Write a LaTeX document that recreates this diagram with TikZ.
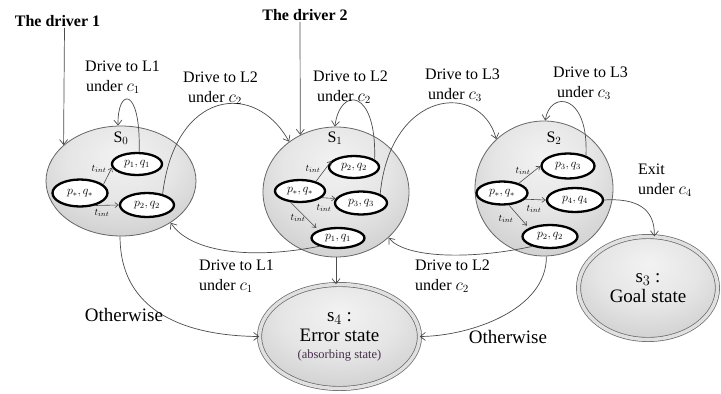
\documentclass[tikz,border=0pt]{standalone}
\usepackage{fontspec}
\setmainfont{Liberation Serif}
\usetikzlibrary{shapes.geometric,arrows.meta}
\definecolor{absorbcol}{rgb}{0.28,0.18,0.3}
\pgfdeclareradialshading{stateshade}{\pgfpoint{0bp}{12bp}}{rgb(0bp)=(0.95,0.95,0.95); rgb(18bp)=(0.9,0.9,0.9); rgb(50bp)=(0.72,0.72,0.72); rgb(75bp)=(0.66,0.66,0.66)}
\begin{document}
\begin{tikzpicture}[x=1pt,y=-1pt,
  bigstate/.style={ellipse, draw=black!60, line width=0.8pt, shading=stateshade, inner sep=0pt},
  finalstate/.style={ellipse, draw=black!60, line width=0.7pt, double=black!12, double distance=3.5pt, shading=stateshade, inner sep=0pt, align=center, font=\fontsize{19}{20}\selectfont},
  inode/.style={ellipse, draw=black, line width=2.3pt, fill=white, inner sep=0pt, minimum width=50pt, minimum height=22pt, font=\fontsize{11.5}{11.5}\selectfont},
  conn/.style={draw=black!70, line width=0.7pt, -{Straight Barb[length=5pt,width=8pt]}},
  tconn/.style={draw=black!70, line width=0.6pt, -{Straight Barb[length=3.5pt,width=5pt]}},
  lbl/.style={font=\fontsize{16}{20}\selectfont, align=left, inner sep=0pt, anchor=west},
  tlbl/.style={font=\fontsize{10}{10}\selectfont, inner sep=0pt},
  slbl/.style={font=\fontsize{16}{16}\selectfont, inner sep=0pt},
  drv/.style={font=\fontsize{16}{16}\selectfont\bfseries, inner sep=1pt},
  otherlbl/.style={font=\fontsize{19}{19}\selectfont, inner sep=0pt},
]
\fill[white] (0,0) rectangle (721,394);
\useasboundingbox (0,0) rectangle (721,394);

% big states
\node[bigstate, minimum width=150pt, minimum height=110pt] (s0) at (121,181) {};
\node[bigstate, minimum width=146pt, minimum height=130pt] (s1) at (336,192) {};
\node[bigstate, minimum width=138pt, minimum height=135pt] (s2) at (544,188.5) {};
\node[finalstate, minimum width=139pt, minimum height=103pt] (s3) at (648,288) {s$_3$ :\\Goal state};
\node[finalstate, minimum width=160pt, minimum height=104pt] (s4) at (339.5,336.5) {s$_4$ :\\Error state\\[-3pt]{\fontsize{12.5}{14}\selectfont\color{absorbcol}(absorbing state)}};

\node[slbl] (l0) at (121,138) {S$_0$};
\node[slbl] (l1) at (335,138) {S$_1$};
\node[slbl] (l2) at (554,138) {S$_2$};

% inner nodes S0
\node[inode, minimum width=55pt, minimum height=27pt] (a0) at (80,193) {$p_*,q_*$};
\node[inode] (b0) at (137,164) {$p_1,q_1$};
\node[inode, minimum width=54pt, minimum height=24pt] (c0) at (147,205) {$p_2,q_2$};
% inner nodes S1
\node[inode] (a1) at (300,191) {$p_*,q_*$};
\node[inode] (e1) at (354,167) {$p_2,q_2$};
\node[inode, minimum width=52pt, minimum height=23pt] (f1) at (361,203) {$p_3,q_3$};
\node[inode, minimum width=53pt, minimum height=20pt] (i1) at (338,238) {$p_1,q_1$};
% inner nodes S2
\node[inode, minimum width=51pt, minimum height=23pt] (a2) at (502,193) {$p_*,q_*$};
\node[inode, minimum width=53pt, minimum height=25pt] (g2) at (568,166) {$p_3,q_3$};
\node[inode, minimum width=56pt, minimum height=24pt] (h2) at (575,200) {$p_4,q_4$};
\node[inode, minimum width=55pt, minimum height=23pt] (j2) at (550,236.5) {$p_2,q_2$};

% internal transitions
\draw[tconn] (a0.20) -- (b0.188);
\draw[tconn] (a0.-40) -- (c0.180);
\node[tlbl] (t01) at (99,169) {$t_{int}$};
\node[tlbl] (t02) at (102,213) {$t_{int}$};

\draw[tconn] (a1.31) -- (e1.165);
\draw[tconn] (a1.-17) -- (f1.170);
\draw[tconn, shorten >=3pt] (a1.-130) -- (i1.158);
\node[tlbl] (t11) at (313,169) {$t_{int}$};
\node[tlbl] (t12) at (324,208) {$t_{int}$};
\node[tlbl] (t13) at (298,218) {$t_{int}$};

\draw[tconn] (a2.30) -- (g2.180);
\draw[tconn] (a2.-15) -- (h2.180);
\draw[tconn, shorten >=3pt] (a2.-60) -- (j2.158);
\node[tlbl] (t21) at (523,171) {$t_{int}$};
\node[tlbl] (t22) at (534,209) {$t_{int}$};
\node[tlbl] (t23) at (506,219) {$t_{int}$};

% drivers
\node[drv] (d1) at (57.5,21) {The driver 1};
\node[drv] (d2) at (305,15) {The driver 2};
\draw[conn] ([xshift=7pt]d1.south) -- (s0.148);
\draw[conn] ([xshift=-5pt]d2.south) -- (s1.122);

% self loops
\draw[conn] (b0.80) .. controls (141,85) and (117,88) .. (s0.93);
\draw[conn] (e1.20) .. controls (377,88) and (340,86) .. (s1.91);
\draw[conn] (g2.30) .. controls (589,93) and (550,90) .. (s2.89);

% forward transitions
\draw[conn] (c0.35) .. controls (175,90) and (255,80) .. (s1.133);
\draw[conn] (f1.25) .. controls (390,90) and (480,80) .. (s2.134);
\draw[conn] (h2.0) .. controls (636,198) and (655,208) .. (s3.83);

% backward transitions
\draw[conn] (i1.204) .. controls (250,260) and (190,252) .. (s0.-40);
\draw[conn] (j2.209) .. controls (470,260) and (405,258) .. (s1.-41);

% error transitions
\draw[conn] (s1.south) -- (s1.south |- s4.north);
\draw[conn] (s0.-91) .. controls (120,320) and (200,336) .. (s4.180);
\draw[conn] (s2.-88) .. controls (547,310) and (470,336) .. (s4.0);

% labels
\node[lbl] (la) at (85,77) {Drive to L1\\\hspace*{1pt}under $c_1$};
\node[lbl] (lb) at (183,88) {Drive to L2\\\hspace*{5pt}under $c_2$};
\node[lbl] (lc) at (313,87) {Drive to L2\\\hspace*{4pt}under $c_2$};
\node[lbl] (ld) at (425,85) {Drive to L3\\\hspace*{3pt}under $c_3$};
\node[lbl] (le) at (553,83) {Drive to L3\\\hspace*{4pt}under $c_3$};
\node[lbl] (lf) at (638,180) {Exit\\under $c_4$};
\node[lbl] (lg) at (199,276) {Drive to L1\\under $c_1$};
\node[lbl] (lh) at (415,276) {Drive to L2\\under $c_2$};
\node[otherlbl] (o1) at (124,315) {Otherwise};
\node[otherlbl] (o2) at (508,337) {Otherwise};
\end{tikzpicture}
\end{document}
